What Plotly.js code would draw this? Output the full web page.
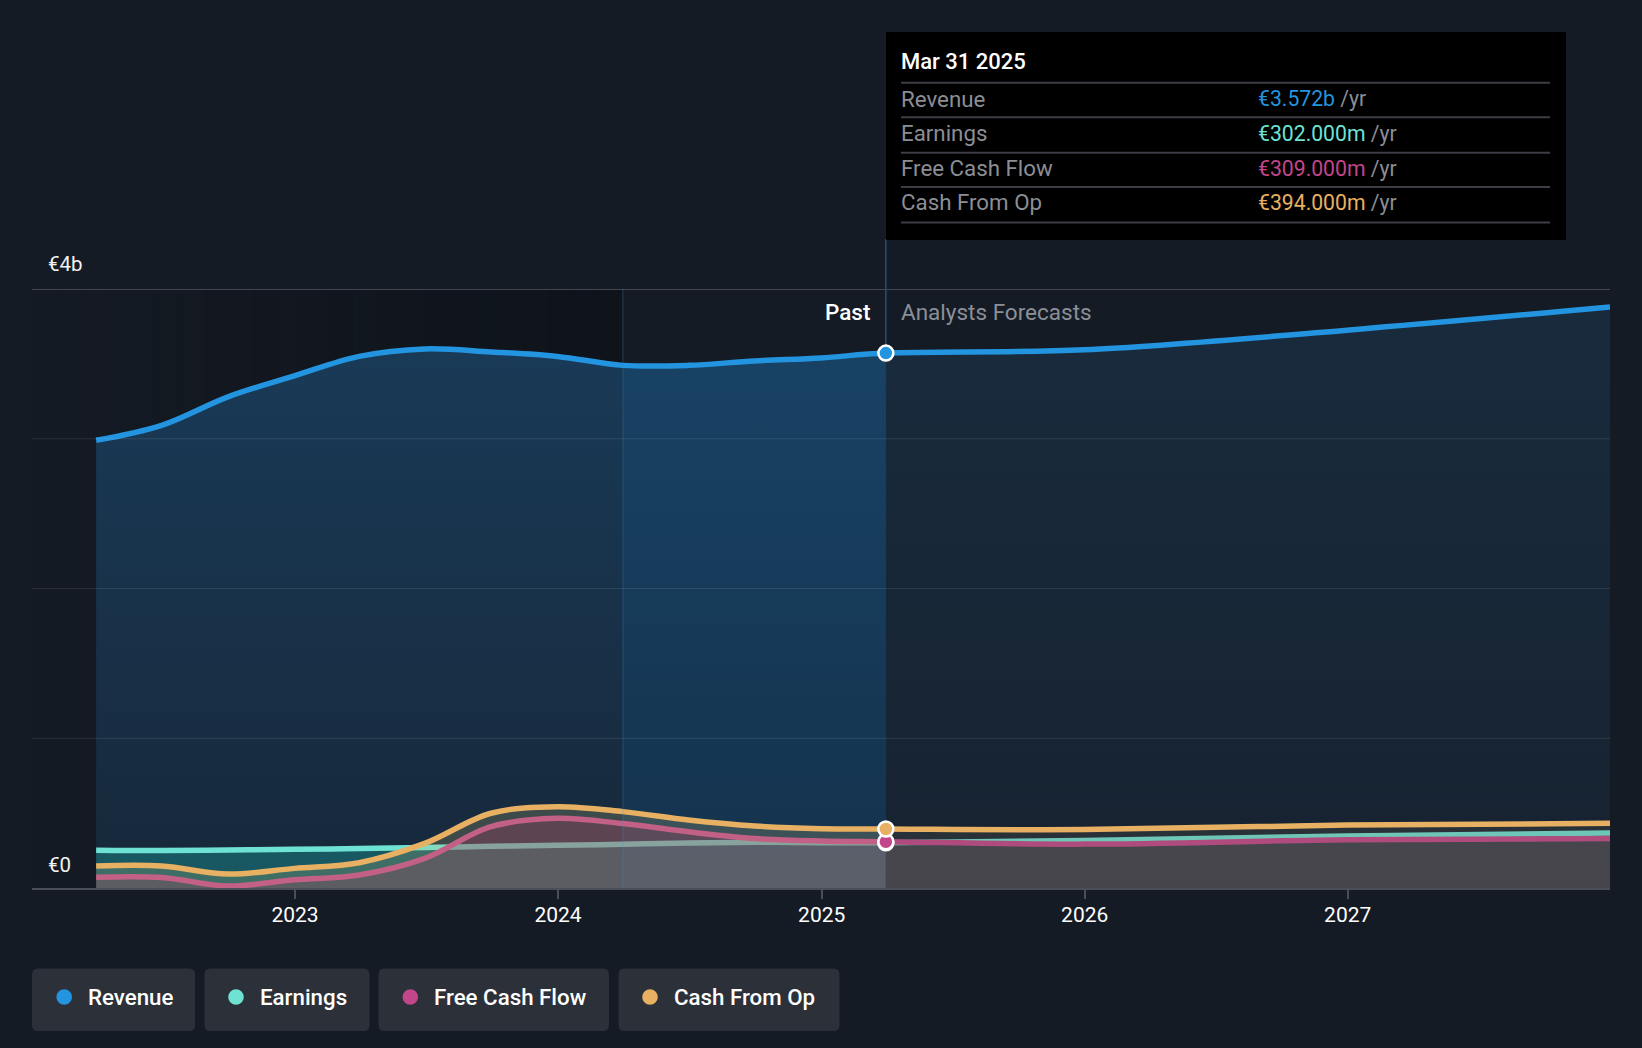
<!DOCTYPE html>
<html>
<head>
<meta charset="utf-8">
<script src="https://cdn.plot.ly/plotly-3.0.1.min.js"></script>
<style>
html,body{margin:0;padding:0;background:#151b24;}
#chart{width:1642px;height:1048px;}
</style>
</head>
<body>
<div id="chart"></div>
<script>
// ---------- DATA (values in € billions) ----------
const pastDates = ['2022-03-31','2022-06-30','2022-09-30','2022-12-31','2023-03-31','2023-06-30','2023-09-30','2023-12-31','2024-03-31','2024-06-30','2024-09-30','2024-12-31','2025-03-31'];
const forecastDates = ['2025-03-31','2025-12-31','2026-12-31','2027-12-31'];

const revenuePast     = [2.99,3.09,3.28,3.42,3.55,3.60,3.58,3.55,3.49,3.49,3.52,3.54,3.572];
const revenueForecast = [3.572,3.594,3.725,3.88];

const earningsPast     = [0.252,0.250,0.254,0.258,0.264,0.270,0.278,0.285,0.292,0.300,0.305,0.303,0.302];
const earningsForecast = [0.302,0.318,0.347,0.368];

const fcfPast     = [0.072,0.070,0.013,0.055,0.087,0.198,0.410,0.465,0.430,0.375,0.330,0.314,0.309];
const fcfForecast = [0.309,0.293,0.322,0.330];

const cfoPast     = [0.147,0.147,0.093,0.131,0.169,0.298,0.499,0.543,0.510,0.454,0.414,0.396,0.394];
const cfoForecast = [0.394,0.390,0.420,0.432];

const seriesNames = ['Revenue','Earnings','Free Cash Flow','Cash From Op'];
const seriesColors = ['#2394df','#6fe3d3','#c2468a','#e8b062'];
const tooltipDate = 'Mar 31 2025';
const tooltipValues = ['€3.572b','€302.000m','€309.000m','€394.000m'];
const yearTicks = ['2023-01-01','2024-01-01','2025-01-01','2026-01-01','2027-01-01'];
const yearLabels = ['2023','2024','2025','2026','2027'];
const yLabels = ['€0','€4b'];
const highlightStart = '2024-03-31';
const splitIdx = pastDates.indexOf(highlightStart);

// ---------- helpers (pixel -> paper) ----------
const L = 32, R = 1610, T = 289, B = 888;
const W = R - L, H = B - T;
const px = p => (p - L) / W;
const py = p => (B - p) / H;
function roundRect(x0, y0, x1, y1, r) {
  const P = (x, y) => px(x).toFixed(5) + ',' + py(y).toFixed(5);
  return 'M' + P(x0 + r, y0) + ' L' + P(x1 - r, y0) + ' Q' + P(x1, y0) + ' ' + P(x1, y0 + r) +
    ' L' + P(x1, y1 - r) + ' Q' + P(x1, y1) + ' ' + P(x1 - r, y1) +
    ' L' + P(x0 + r, y1) + ' Q' + P(x0, y1) + ' ' + P(x0, y1 - r) +
    ' L' + P(x0, y0 + r) + ' Q' + P(x0, y0) + ' ' + P(x0 + r, y0) + ' Z';
}

const traces = [];
const base = {type: 'scatter', mode: 'lines', hoverinfo: 'skip', showlegend: false};

// revenue fills
traces.push(Object.assign({}, base, {
  x: pastDates.slice(0, splitIdx + 1), y: revenuePast.slice(0, splitIdx + 1),
  line: {width: 0, shape: 'spline'}, fill: 'tozeroy', fillcolor: '#18314a',
  fillgradient: {type: 'vertical', colorscale: [[0, '#17283a'], [1, '#193a57']]}
}));
traces.push(Object.assign({}, base, {
  x: pastDates.slice(splitIdx), y: revenuePast.slice(splitIdx),
  line: {width: 0, shape: 'spline'}, fill: 'tozeroy', fillcolor: '#153a58',
  fillgradient: {type: 'vertical', colorscale: [[0, '#14324d'], [1, '#184264']]}
}));
traces.push(Object.assign({}, base, {
  x: forecastDates, y: revenueForecast,
  line: {width: 0, shape: 'spline'}, fill: 'tozeroy', fillcolor: '#182838',
  fillgradient: {type: 'vertical', colorscale: [[0, '#172230'], [1, '#182b3d']]}
}));

// small series: fills then line
function addSeries(pastY, foreY, color, pastFill, foreFill) {
  traces.push(Object.assign({}, base, {x: pastDates, y: pastY, line: {width: 0, shape: 'spline'}, fill: 'tozeroy', fillcolor: pastFill}));
  traces.push(Object.assign({}, base, {x: forecastDates, y: foreY, line: {width: 0, shape: 'spline'}, fill: 'tozeroy', fillcolor: foreFill}));
  traces.push(Object.assign({}, base, {x: pastDates.concat(forecastDates.slice(1)), y: pastY.concat(foreY.slice(1)), line: {width: 5.5, shape: 'spline', color: color}}));
}
addSeries(earningsPast, earningsForecast, seriesColors[1], 'rgba(25,200,190,0.30)', 'rgba(100,105,115,0.40)');
addSeries(fcfPast, fcfForecast, seriesColors[2], 'rgba(135,24,89,0.35)', 'rgba(120,60,90,0.10)');
addSeries(cfoPast, cfoForecast, seriesColors[3], 'rgba(200,190,120,0.22)', 'rgba(110,100,80,0.22)');

// revenue line
traces.push(Object.assign({}, base, {
  x: pastDates.concat(forecastDates.slice(1)), y: revenuePast.concat(revenueForecast.slice(1)),
  line: {width: 5.5, shape: 'spline', color: seriesColors[0]}
}));

// markers at last reported point
const last = pastDates.length - 1;
[[earningsPast, 1], [fcfPast, 2], [cfoPast, 3], [revenuePast, 0]].forEach(([arr, i]) => {
  traces.push({type: 'scatter', mode: 'markers', hoverinfo: 'skip', showlegend: false,
    x: [pastDates[last]], y: [arr[last]],
    marker: {size: 15, color: seriesColors[i], line: {color: '#ffffff', width: 2.5}}});
});

// ---------- shapes ----------
const shapes = [];
// darkening gradient over the older past
const t0 = Date.parse('2022-01-01'), t1 = Date.parse(highlightStart);
const steps = 24;
for (let i = 0; i < steps; i++) {
  const a = 0.38 * (i + 0.5) / steps;
  shapes.push({type: 'rect', layer: 'below', xref: 'x', yref: 'paper',
    x0: new Date(t0 + (t1 - t0) * i / steps).toISOString(),
    x1: new Date(t0 + (t1 - t0) * (i + 1) / steps).toISOString(),
    y0: 0, y1: 1, line: {width: 0}, fillcolor: 'rgba(5,7,10,' + a.toFixed(3) + ')'});
}
// grid lines
shapes.push({type: 'line', layer: 'below', xref: 'paper', yref: 'y', x0: 0, x1: 1, y0: 4, y1: 4, line: {color: '#42464e', width: 2}});
[1, 2, 3].forEach(v => shapes.push({type: 'line', layer: 'above', xref: 'paper', yref: 'y', x0: 0, x1: 1, y0: v, y1: v, line: {color: 'rgba(255,255,255,0.095)', width: 1.2}}));
// highlight boundary line
shapes.push({type: 'line', layer: 'above', xref: 'x', yref: 'paper', x0: highlightStart, x1: highlightStart, y0: 0, y1: 1, line: {color: 'rgba(70,140,200,0.22)', width: 1.5}});
// current-date line up to the tooltip
shapes.push({type: 'line', layer: 'below', xref: 'x', yref: 'paper', x0: pastDates[last], x1: pastDates[last], y0: 0, y1: py(239), line: {color: '#22507a', width: 1.5}});
// tooltip box
shapes.push({type: 'rect', layer: 'above', xref: 'paper', yref: 'paper', x0: px(886), x1: px(1566), y0: py(240), y1: py(32), line: {width: 0}, fillcolor: '#000000'});
[82.7, 117.3, 152.7, 187, 222.5].forEach(y => shapes.push({type: 'line', layer: 'above', xref: 'paper', yref: 'paper', x0: px(901), x1: px(1550), y0: py(y), y1: py(y), line: {color: '#3b3e44', width: 2}}));

// legend boxes
const legendBoxes = [[32, 195], [204.5, 369.5], [378.5, 609], [618.5, 839.5]];
const legendDots = [64.2, 236, 410.3, 650];
const legendText = [86, 257.6, 431.5, 671.7];
legendBoxes.forEach((b, i) => {
  shapes.push({type: 'path', layer: 'above', xref: 'paper', yref: 'paper', path: roundRect(b[0], 968.5, b[1], 1031, 6), line: {width: 0}, fillcolor: '#2c3039'});
  shapes.push({type: 'circle', layer: 'above', xref: 'paper', yref: 'paper', x0: px(legendDots[i] - 7.8), x1: px(legendDots[i] + 7.8), y0: py(997 + 7.8), y1: py(997 - 7.8), line: {width: 0}, fillcolor: seriesColors[i]});
});

// ---------- annotations ----------
const FONT = 'Roboto, "Noto Sans", sans-serif';
const ann = [];
function addText(text, x, y, size, color, xanchor, weight) {
  ann.push({xref: 'paper', yref: 'paper', x: px(x), y: py(y), text: text, showarrow: false,
    xanchor: xanchor || 'left', yanchor: 'middle', font: {family: FONT, size: size, color: color, weight: weight || 400}});
}
addText(yLabels[1], 46, 264, 20.5, '#f2f2f2', 'left');
addText(yLabels[0], 46, 865, 20.5, '#f2f2f2', 'left');
addText('Past', 872, 312, 22.5, '#ffffff', 'right', 500);
addText('Analysts Forecasts', 899, 312, 22.5, '#8a8f98', 'left', 400);
addText(tooltipDate, 899, 62, 22, '#ffffff', 'left', 500);
const rowY = [99, 133.3, 168.3, 202.3];
seriesNames.forEach((n, i) => {
  addText(n, 899, rowY[i], 22.3, '#8b8e94', 'left');
  addText('<span style="color:' + seriesColors[i] + '">' + tooltipValues[i] + '</span> /yr', 1256, rowY[i], 21.2, '#8b8e94', 'left');
  addText(n, legendText[i], 997, 22.3, '#ffffff', 'left', 500);
});

const layout = {
  width: 1642, height: 1048,
  margin: {l: L, r: 1642 - R, t: T, b: 1048 - B, pad: 0},
  paper_bgcolor: '#151b24', plot_bgcolor: 'rgba(0,0,0,0)',
  font: {family: FONT, color: '#ffffff'},
  showlegend: false,
  hovermode: false,
  xaxis: {
    type: 'date', range: ['2022-01-01', '2027-12-31'],
    tickvals: yearTicks, ticktext: yearLabels,
    showgrid: false, zeroline: false,
    showline: true, linecolor: '#4a4e56', linewidth: 2,
    ticks: 'outside', ticklen: 9, tickwidth: 2, tickcolor: '#4a4e56',
    ticklabelstandoff: -2,
    tickfont: {family: FONT, size: 21, color: '#ffffff'},
    fixedrange: true
  },
  yaxis: {
    range: [0, 4], showgrid: false, zeroline: false, showticklabels: false,
    showline: false, ticks: '', fixedrange: true
  },
  shapes: shapes,
  annotations: ann
};

Plotly.newPlot('chart', traces, layout, {displayModeBar: false, staticPlot: true});
</script>
</body>
</html>
